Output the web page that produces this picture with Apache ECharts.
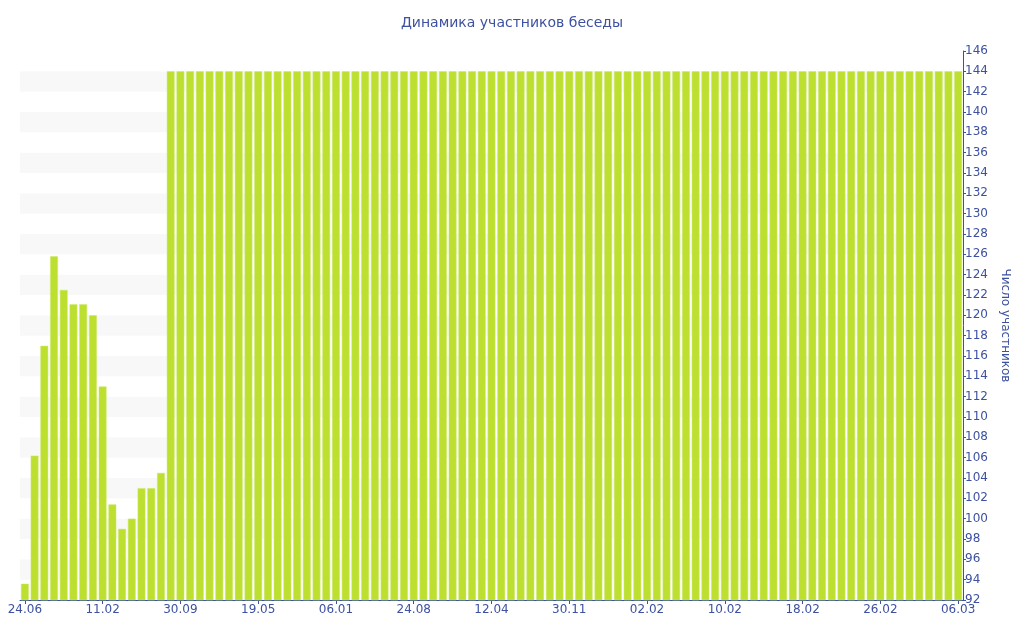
<!DOCTYPE html>
<html>
<head>
<meta charset="utf-8">
<style>
  html, body { margin: 0; padding: 0; background: #fff; }
  #chart { width: 1024px; height: 640px; }
</style>
<script src="https://cdn.jsdelivr.net/npm/echarts@6/dist/echarts.min.js"></script>
</head>
<body>
<div id="chart"></div>
<script>
// visible date labels, one every 8 bars
const tickLabels = ['24.06', '11.02', '30.09', '19.05', '06.01', '24.08', '12.04',
  '30.11', '02.02', '10.02', '18.02', '26.02', '06.03'];

// members per period
const members = [93.6, 106.2, 117, 125.8, 122.5, 121.1, 121.1, 120, 113, 101.4,
  99, 100, 103, 103, 104.5,
  144, 144, 144, 144, 144, 144, 144, 144, 144, 144,
  144, 144, 144, 144, 144, 144, 144, 144, 144, 144,
  144, 144, 144, 144, 144, 144, 144, 144, 144, 144,
  144, 144, 144, 144, 144, 144, 144, 144, 144, 144,
  144, 144, 144, 144, 144, 144, 144, 144, 144, 144,
  144, 144, 144, 144, 144, 144, 144, 144, 144, 144,
  144, 144, 144, 144, 144, 144, 144, 144, 144, 144,
  144, 144, 144, 144, 144, 144, 144, 144, 144, 144,
  144, 144];

const categories = members.map((v, i) => 'p' + i);

const blue = '#3d51a0';
const font = 'DejaVu Sans, Verdana, sans-serif';

const chart = echarts.init(document.getElementById('chart'));
chart.setOption({
  animation: false,
  title: {
    text: 'Динамика участников беседы',
    left: 'center',
    top: 11,
    textStyle: { color: blue, fontSize: 14, fontWeight: 'normal', fontFamily: font },
  },
  grid: { left: 20, right: 61, top: 51, bottom: 40, containLabel: false },
  xAxis: {
    type: 'category',
    data: categories,
    axisLine: { lineStyle: { color: blue } },
    axisTick: { show: true, interval: 7, alignWithLabel: true, length: 4, lineStyle: { color: blue } },
    axisLabel: {
      interval: 7,
      color: blue,
      fontSize: 12,
      fontFamily: font,
      margin: 4,
      formatter: (v, i) => tickLabels[i / 8] || '',
    },
    splitLine: { show: false },
  },
  yAxis: {
    type: 'value',
    position: 'right',
    min: 92,
    max: 146,
    interval: 2,
    name: 'Число участников',
    nameLocation: 'middle',
    nameRotate: -90,
    nameGap: 36,
    nameTextStyle: { color: blue, fontSize: 12, fontFamily: font },
    axisLine: { show: true, lineStyle: { color: blue } },
    axisTick: { show: true, length: 3, lineStyle: { color: blue } },
    axisLabel: { color: blue, fontSize: 12, fontFamily: font, margin: 2 },
    splitLine: { show: false },
    splitArea: { show: true, areaStyle: { color: ['#ffffff', '#f8f8f8'] } },
  },
  series: [{
    type: 'bar',
    data: members,
    barCategoryGap: '20%',
    itemStyle: { color: '#bde030', borderColor: '#cde86a', borderWidth: 0.5 },
  }],
});
</script>
</body>
</html>
